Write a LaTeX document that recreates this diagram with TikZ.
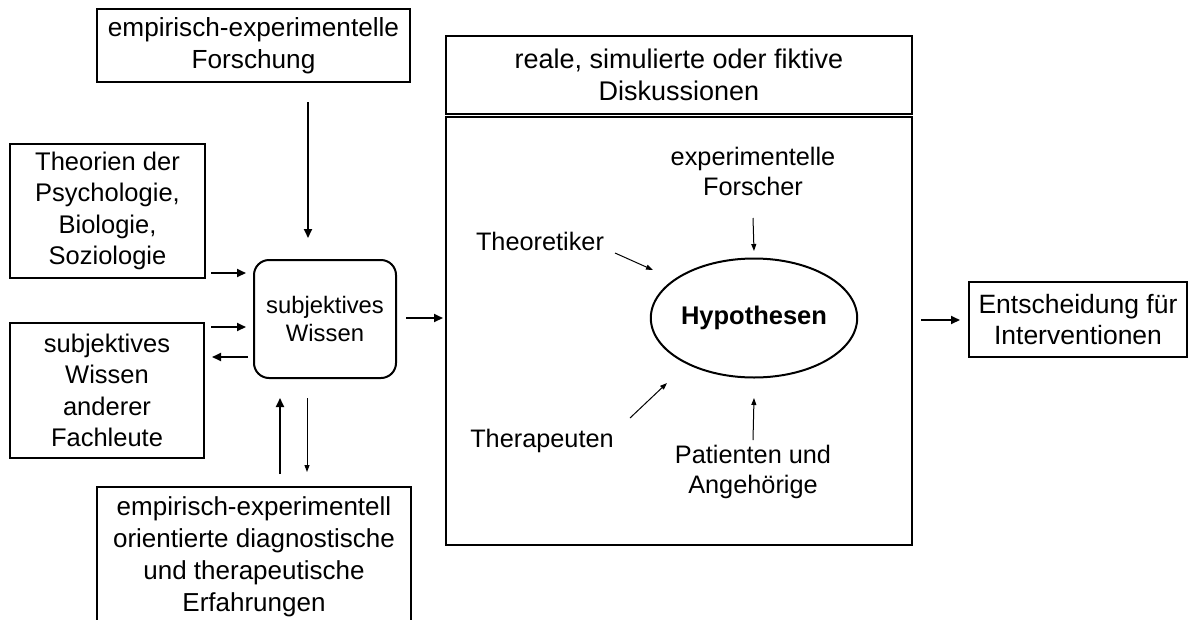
\documentclass[tikz,border=0pt]{standalone}
\usepackage{fontspec}
\setmainfont{Liberation Sans}
\usetikzlibrary{arrows.meta,shapes.geometric}
\tikzset{
  box/.style={draw, line width=2pt, inner sep=0pt, align=center, font=\fontsize{25.5}{31.5}\selectfont},
  lbl/.style={inner sep=0pt, align=center, font=\fontsize{25.3}{30}\selectfont},
  arr/.style={line width=2pt, -{Triangle[length=9pt,width=8pt]}},
  tarr/.style={line width=1pt, -{Triangle[length=7pt,width=5pt]}},
}
\begin{document}
\begin{tikzpicture}[x=1pt,y=-1pt]
\clip (0,0) rectangle (1189,619);
\fill[white] (0,0) rectangle (1189,619);
% left column
\node[box, minimum width=313, minimum height=73, font=\fontsize{26.2}{31.5}\selectfont] (forsch) at (253.5,45.5) {empirisch-experimentelle\\Forschung};
\node[box, minimum width=195, minimum height=134] (theorien) at (107.5,211) {Theorien der\\Psychologie,\\Biologie,\\Soziologie};
\node[box, minimum width=194, minimum height=135] (andere) at (107,390.5) {subjektives\\Wissen\\anderer\\Fachleute};
\node[box, minimum width=314, minimum height=140, font=\fontsize{26}{32}\selectfont] (bottom) at (254,557) {empirisch-experimentell\\orientierte diagnostische\\und therapeutische\\Erfahrungen};
\node[box, rounded corners=15pt, minimum width=142, minimum height=118, font=\fontsize{23.8}{28}\selectfont] (subjW) at (325,319) {subjektives\\Wissen};
% middle
\node[box, line width=2.5pt, minimum width=466, minimum height=78, font=\fontsize{27}{31.5}\selectfont] (disk) at (679,75) {reale, simulierte oder fiktive\\Diskussionen};
\node[draw, line width=2.5pt, minimum width=466, minimum height=428, inner sep=0pt] (big) at (679,331) {};
\node[draw, line width=2pt, ellipse, minimum width=196, minimum height=119, inner sep=0pt, font=\fontsize{25.5}{30}\selectfont\bfseries] (hyp) at (754,318) {Hypothesen};
\node[lbl] (forscher) at (753,171) {experimentelle\\Forscher};
\node[lbl] (theo) at (540,241) {Theoretiker};
\node[lbl] (thera) at (542,441) {Therapeuten};
\node[lbl] (pat) at (753,472) {Patienten und\\Angehörige};
% right
\node[box, minimum width=218, minimum height=75, font=\fontsize{26.5}{31.5}\selectfont] (ent) at (1078,319.5) {Entscheidung für\\Interventionen};
% connectors
\draw[arr] ([shift={(54.5,56.5)}]forsch.center) -- ([shift={(-17,-81)}]subjW.center);
\draw[arr] ([shift={(103.5,62)}]theorien.center) -- ([shift={(-79,-46)}]subjW.center);
\draw[arr] ([shift={(104,-63.5)}]andere.center) -- ([shift={(-79,8)}]subjW.center);
\draw[arr] ([shift={(-77,38)}]subjW.center) -- ([shift={(105,-33.5)}]andere.center);
\draw[arr] ([shift={(81,-1)}]subjW.center) -- ([shift={(-236,-13)}]big.center);
\draw[arr] ([shift={(26,-83)}]bottom.center) -- ([shift={(-45,79)}]subjW.center);
\draw[tarr] ([shift={(-18,79)}]subjW.center) -- ([shift={(53,-85)}]bottom.center);
\draw[arr] ([shift={(242,-11)}]big.center) -- ([shift={(-118,0.5)}]ent.center);
\draw[tarr] ([shift={(0,47)}]forscher.center) -- ([shift={(0,-67)}]hyp.center);
\draw[tarr] ([shift={(75,12)}]theo.center) -- ([shift={(-101,-48)}]hyp.center);
\draw[tarr] ([shift={(88,-23)}]thera.center) -- ([shift={(-87,65)}]hyp.center);
\draw[tarr] ([shift={(0,-32)}]pat.center) -- ([shift={(0,80)}]hyp.center);
\end{tikzpicture}
\end{document}
